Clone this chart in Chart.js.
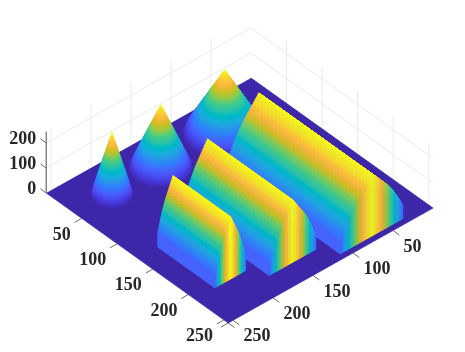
<!DOCTYPE html>
<html>
<head>
<meta charset="utf-8">
<title>Surface</title>
<script src="https://cdn.jsdelivr.net/npm/chart.js@4/dist/chart.umd.js"></script>
<style>
    html, body { margin: 0; padding: 0; background: #fff; overflow: hidden; }
    canvas { display: block; filter: blur(0.45px); }
</style>
</head>
<body>
<canvas id="chart" width="465" height="352"></canvas>
<script>
// Values
const axisTicks = [50, 100, 150, 200, 250];
const heightTicks = [0, 100, 200];
const axisMax = 256;
const heightMax = 250;
const heightTop = 245;

// Cones, back to front: centre row/column, radius
const coneRows = [44, 43, 43];
const coneCols = [72, 151, 212];
const coneRadii = [39, 29.5, 19.5];
// Height of each ring, rim to tip
const coneHeights = [2, 6, 10, 15, 19, 23, 27, 31, 35, 40, 44, 48, 52, 56, 60, 65, 69, 73, 77, 81,
    85, 90, 94, 98, 102, 106, 110, 115, 119, 123, 127, 131, 135, 140, 144, 148, 152, 156, 160, 165,
    169, 173, 177, 181, 185, 190, 194, 198, 202, 206, 210, 215, 219, 223, 227, 231, 235, 240, 245, 250];

// Ridges, back to front: row span and column span
const ridgeRowStart = [90, 109, 128];
const ridgeRowEnd = [249, 229, 209];
const ridgeColStart = [31, 122, 192];
const ridgeColEnd = [110, 181, 231];
// Height from a ridge's edge up to its crest; the other side mirrors it
const ridgeHalf = [48, 56, 64, 71, 78, 85, 91, 98, 105, 111, 117, 123, 129, 135, 140, 145, 150, 155, 160, 165, 170,
    174, 178, 182, 186, 190, 194, 198, 202, 206, 210, 214, 218, 222, 226, 230, 234, 238, 242, 246, 250];
const ridgeHeights = ridgeHalf.concat(ridgeHalf.slice(0, -1).reverse());
const ridgeHalfColors = [46, 52, 58, 64, 70, 77, 83, 90, 96, 102, 108, 114, 121, 127, 133, 138, 143, 148, 153, 157, 162,
    167, 173, 179, 185, 191, 195, 200, 204, 208, 212, 216, 220, 225, 229, 233, 237, 240, 243, 247, 250];
const ridgeColors = ridgeHalfColors.concat(ridgeHalfColors.slice(0, -1).reverse());

// parula colormap
const parula = [
    [.2422,.1504,.6603],[.2504,.1650,.7076],[.2578,.1818,.7511],[.2647,.1978,.7952],[.2706,.2147,.8364],[.2751,.2342,.8710],
    [.2783,.2559,.8991],[.2803,.2782,.9221],[.2813,.3006,.9414],[.2810,.3228,.9579],[.2795,.3447,.9717],[.2760,.3667,.9829],
    [.2699,.3892,.9906],[.2602,.4123,.9952],[.2440,.4358,.9988],[.2206,.4603,.9973],[.1963,.4847,.9892],[.1834,.5074,.9798],
    [.1786,.5289,.9682],[.1764,.5499,.9520],[.1687,.5703,.9359],[.1540,.5902,.9218],[.1460,.6091,.9079],[.1380,.6276,.8973],
    [.1248,.6459,.8883],[.1113,.6635,.8763],[.0952,.6798,.8598],[.0689,.6948,.8394],[.0297,.7082,.8163],[.0036,.7203,.7917],
    [.0067,.7312,.7660],[.0433,.7411,.7394],[.0964,.7500,.7120],[.1408,.7584,.6842],[.1717,.7670,.6554],[.1938,.7758,.6251],
    [.2161,.7843,.5923],[.2470,.7918,.5567],[.2906,.7973,.5188],[.3406,.8008,.4789],[.3909,.8029,.4354],[.4456,.8024,.3909],
    [.5044,.7993,.3480],[.5616,.7942,.3045],[.6174,.7876,.2612],[.6720,.7793,.2227],[.7242,.7698,.1910],[.7738,.7598,.1646],
    [.8203,.7498,.1535],[.8634,.7406,.1596],[.9035,.7330,.1774],[.9393,.7288,.2100],[.9728,.7298,.2394],[.9956,.7434,.2371],
    [.9970,.7659,.2199],[.9952,.7893,.2028],[.9892,.8136,.1885],[.9786,.8386,.1766],[.9676,.8639,.1643],[.9610,.8890,.1537],
    [.9597,.9135,.1423],[.9628,.9373,.1265],[.9691,.9606,.1064],[.9769,.9839,.0805]
];

const gridColor = '#e9e9e9';
const tickColor = '#6b6b6b';
const datasets = [];

// 3D view: row, column, height to chart coordinates
function project(row, col, z) {
    return {
        x: 251 + 0.711 * row - 0.80 * col,
        y: 78 + 0.508 * row + 0.449 * col - 0.25 * z
    };
}

function colorFor(h) {
    const i = Math.max(0, Math.min(63, Math.round(h / heightMax * 63)));
    const c = parula[i];
    return `rgb(${Math.round(c[0] * 255)},${Math.round(c[1] * 255)},${Math.round(c[2] * 255)})`;
}

function addShape(points, color) {
    datasets.push({
        data: points,
        showLine: true,
        fill: 'shape',
        backgroundColor: color,
        borderColor: color,
        borderWidth: 0.7,
        // a dash keeps Chart.js off its fast path, which merges points in the same pixel column
        borderDash: [1000, 0],
        pointRadius: 0
    });
}

function addLine(a, b, color, width) {
    datasets.push({
        data: [a, b],
        showLine: true,
        fill: false,
        borderColor: color,
        borderWidth: width,
        borderDash: [1000, 0],
        pointRadius: 0
    });
}

function addWalls() {
    heightTicks.slice(1).forEach(z => {
        addLine(project(0, 0, z), project(0, axisMax, z), gridColor, 1);
        addLine(project(0, 0, z), project(axisMax, 0, z), gridColor, 1);
    });
    axisTicks.forEach(v => {
        addLine(project(v, 0, 0), project(v, 0, heightMax), gridColor, 1);
        addLine(project(0, v, 0), project(0, v, heightMax), gridColor, 1);
    });
}

function addAxes() {
    addLine(project(0, axisMax, 0), project(0, axisMax, heightTop), '#4a4a4a', 1);
    heightTicks.forEach(z => {
        addLine(project(0, axisMax, z), project(-8, axisMax, z), tickColor, 1);
    });
    axisTicks.concat(axisMax).forEach(v => {
        addLine(project(v, axisMax, 0), project(v, axisMax + 9, 0), tickColor, 1);
        addLine(project(axisMax, v, 0), project(axisMax + 9, v, 0), tickColor, 1);
    });
}

function addPlate() {
    addShape([
        project(0, 0, 0), project(axisMax, 0, 0),
        project(axisMax, axisMax, 0), project(0, axisMax, 0)
    ], colorFor(0));
}

// A cone is a stack of discs, each one smaller and higher than the last
function addCone(index) {
    const count = coneHeights.length;
    coneHeights.forEach((h, i) => {
        const radius = coneRadii[index] * (1 - i / count);
        const ring = [];
        for (let a = 0; a < 48; a++) {
            const angle = a / 48 * Math.PI * 2;
            ring.push(project(coneRows[index] + radius * Math.cos(angle), coneCols[index] + radius * Math.sin(angle), h));
        }
        addShape(ring, colorFor(h));
    });
}

function addRidge(index) {
    const rowA = ridgeRowStart[index];
    const rowB = ridgeRowEnd[index];
    const colA = ridgeColStart[index];
    const colB = ridgeColEnd[index];
    const last = ridgeHeights.length - 1;
    const colAt = i => colA + (colB - colA) * i / last;

    // Top surface, far strips first
    for (let i = 0; i < last; i++) {
        addShape([
            project(rowA, colAt(i), ridgeHeights[i]),
            project(rowB, colAt(i), ridgeHeights[i]),
            project(rowB, colAt(i + 1), ridgeHeights[i + 1]),
            project(rowA, colAt(i + 1), ridgeHeights[i + 1])
        ], colorFor(ridgeColors[i]));
    }

    // Long side wall
    addShape([
        project(rowA, colB, 0), project(rowB, colB, 0),
        project(rowB, colB, ridgeHeights[last]), project(rowA, colB, ridgeHeights[last])
    ], colorFor(ridgeColors[last]));

    // End wall, flat colour per column
    for (let i = 0; i < last; i++) {
        addShape([
            project(rowB, colAt(i), 0),
            project(rowB, colAt(i + 1), 0),
            project(rowB, colAt(i + 1), ridgeHeights[i + 1]),
            project(rowB, colAt(i), ridgeHeights[i])
        ], colorFor(Math.max(ridgeColors[i], ridgeColors[i + 1])));
    }
}

addWalls();
addAxes();
addPlate();
addCone(0);
addRidge(0);
addCone(1);
addRidge(1);
addCone(2);
addRidge(2);

// Tick labels sit next to the projected axes
const tickLabels = {
    id: 'tickLabels',
    afterDraw(chart) {
        const { ctx, scales } = chart;
        const put = (text, p, dx, dy, align) => {
            ctx.textAlign = align;
            ctx.fillText(text, scales.x.getPixelForValue(p.x) + dx, scales.y.getPixelForValue(p.y) + dy);
        };
        ctx.save();
        ctx.font = 'bold 18px "Liberation Serif"';
        ctx.fillStyle = '#262626';
        ctx.textBaseline = 'middle';
        axisTicks.forEach(v => {
            put(String(v), project(v, axisMax, 0), -11, 16.5, 'right');
            put(String(v), project(axisMax, v, 0), 10.5, 16.5, 'left');
        });
        heightTicks.forEach(z => {
            put(String(z), project(0, axisMax, z), -10, -3.5, 'right');
        });
        ctx.restore();
    }
};

new Chart(document.getElementById('chart'), {
    type: 'scatter',
    // first dataset is drawn on top, so reverse the painter's order
    data: { datasets: datasets.reverse() },
    options: {
        responsive: false,
        animation: false,
        events: [],
        layout: { padding: 0 },
        plugins: {
            legend: { display: false },
            tooltip: { enabled: false }
        },
        scales: {
            x: { type: 'linear', min: 0, max: 465, display: false },
            y: { type: 'linear', min: 0, max: 352, reverse: true, display: false }
        }
    },
    plugins: [tickLabels]
});
</script>
</body>
</html>
